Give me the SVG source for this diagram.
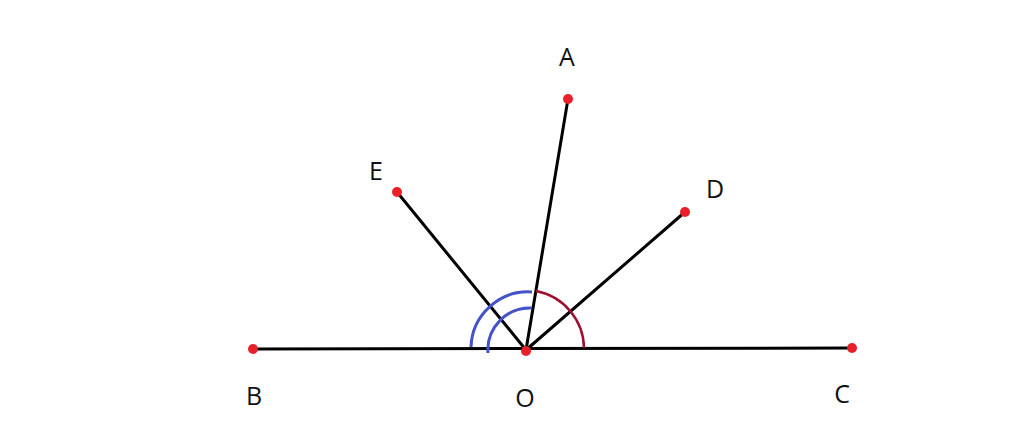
<svg xmlns="http://www.w3.org/2000/svg" width="1024" height="428" viewBox="0 0 1024 428">
<style>
.ln{stroke:#000;stroke-width:3;fill:none;stroke-linecap:round}
.pt{fill:#e8202a}
.lb{font-family:"Open Sans","Noto Sans",sans-serif;font-size:25px;fill:#111;text-anchor:middle}
.blue{stroke:#4454c8;stroke-width:3;fill:none}
.red{stroke:#9c1030;stroke-width:2.5;fill:none}
</style>
<rect width="1024" height="428" fill="#fff"/>
<g id="connectors">
<line class="ln" x1="253" y1="349" x2="852" y2="348"/>
<line class="ln" x1="526" y1="350" x2="568" y2="99"/>
<line class="ln" x1="526" y1="350" x2="397" y2="192"/>
<line class="ln" x1="526" y1="350" x2="685" y2="212"/>
<path class="red" d="M536 291 A59 59 0 0 1 584 348"/>
<path class="blue" d="M532 292 A57 57 0 0 0 471 347"/>
<path class="blue" d="M532 308 A42 42 0 0 0 488 353"/>
</g>
<g id="node-A"><circle class="pt" cx="568" cy="99" r="5"/><text class="lb" x="567" y="66">A</text></g>
<g id="node-E"><circle class="pt" cx="397" cy="192" r="5"/><text class="lb" x="376" y="180">E</text></g>
<g id="node-D"><circle class="pt" cx="685" cy="212" r="5"/><text class="lb" x="715" y="198">D</text></g>
<g id="node-B"><circle class="pt" cx="253" cy="349" r="5"/><text class="lb" x="254" y="405">B</text></g>
<g id="node-O"><circle class="pt" cx="526" cy="351" r="5"/><text class="lb" x="525" y="407">O</text></g>
<g id="node-C"><circle class="pt" cx="852" cy="348" r="5"/><text class="lb" x="842" y="403">C</text></g>
</svg>
